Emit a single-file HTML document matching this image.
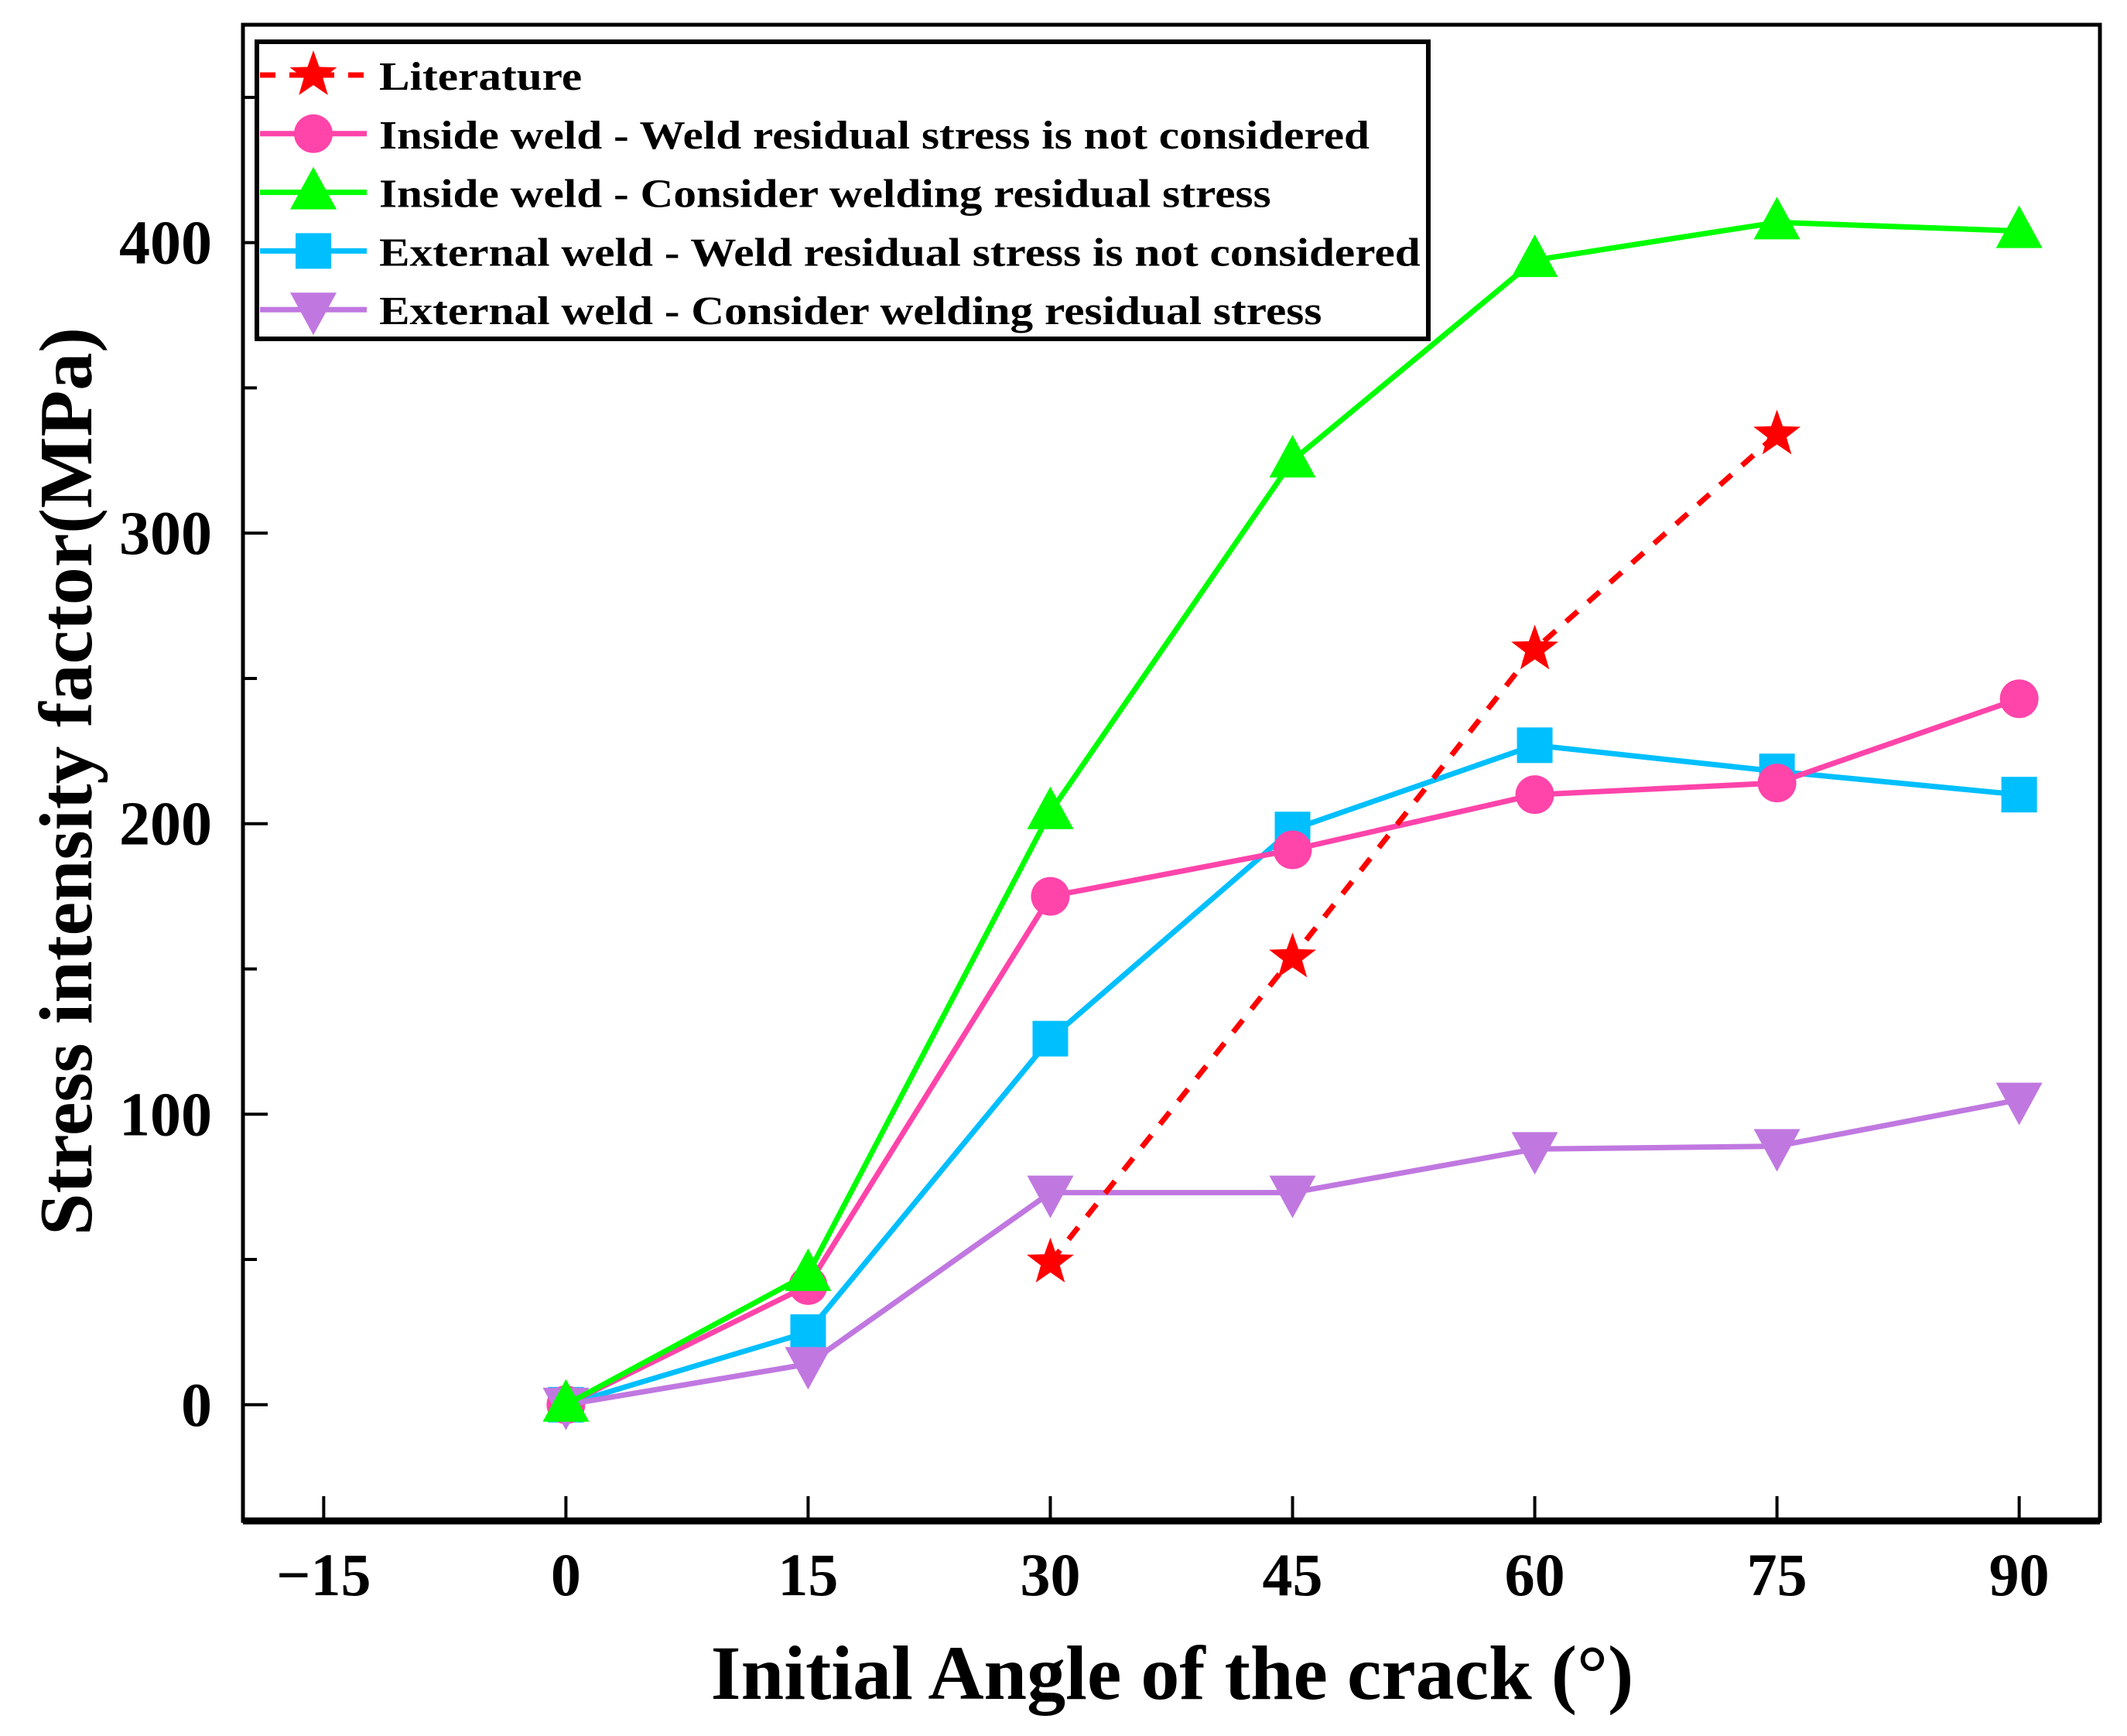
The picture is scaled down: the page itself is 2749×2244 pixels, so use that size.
<!DOCTYPE html>
<html><head><meta charset="utf-8"><style>
html,body{margin:0;padding:0;background:#fff;}
svg{display:block;font-family:"Liberation Serif",serif;font-weight:bold;}
</style></head><body>
<svg id="chart" width="2749" height="2244" viewBox="0 0 2749 2244" xmlns="http://www.w3.org/2000/svg">
</svg>
<script>
const xCats = [0, 15, 30, 45, 60, 75, 90];
const litX = [30, 45, 60, 75];
const litVals = [49, 154, 260, 334];
const insideNoRS = [0, 41, 175, 191, 210, 214, 243];
const insideRS = [0, 45, 204, 325, 394, 407, 404];
const externalNoRS = [0, 25, 126, 198, 227, 218, 210];
const externalRS = [0, 14, 73, 73, 88, 89, 105];
const xTicks = [-15, 0, 15, 30, 45, 60, 75, 90];
const yTicks = [0, 100, 200, 300, 400];
const yMinor = [50, 150, 250, 350, 450];
const legendLabels = ["Literature","Inside weld - Weld residual stress is not considered","Inside weld - Consider welding residual stress","External weld - Weld residual stress is not considered","External weld - Consider welding residual stress"];

const L=314,R=2714,T=32,B=1966;
const xMin=-20,xMax=95,yMin=-40,yMax=475;
const xs=v=>L+(v-xMin)/(xMax-xMin)*(R-L);
const ys=v=>B-(v-yMin)/(yMax-yMin)*(B-T);
const svg=document.getElementById('chart');
const NS='http://www.w3.org/2000/svg';
function mk(tag,attrs,parent){const e=document.createElementNS(NS,tag);for(const k in attrs)e.setAttribute(k,attrs[k]);(parent||svg).appendChild(e);return e;}

let fr=mk('rect',{x:L,y:T,width:R-L,height:B-T,fill:'none',stroke:'#000','stroke-width':5});


let bl=mk('line',{x1:L,x2:R,y1:B,y2:B,stroke:'#000','stroke-width':9});



xTicks.forEach(t=>{
  const x=xs(t);
  const tk=mk('line',{x1:x,x2:x,y1:B,y2:B-32,stroke:'#000','stroke-width':4});
  
  
  const tx=mk('text',{x:x,y:B+96,'font-size':78,'text-anchor':'middle'});
  tx.textContent=t<0?'\u2212'+Math.abs(t):String(t);
  
  
});
yTicks.forEach(t=>{
  const y=ys(t);
  const tk=mk('line',{x1:L,x2:L+32,y1:y,y2:y,stroke:'#000','stroke-width':4});
  
  
  const tx=mk('text',{x:L-40,y:y+27,'font-size':80,'text-anchor':'end'});
  tx.textContent=String(t);
  
  
});
yMinor.forEach(t=>{
  const y=ys(t);
  const tk=mk('line',{x1:L,x2:L+18,y1:y,y2:y,stroke:'#000','stroke-width':4});
  
  
});
let xt=mk('text',{x:1515,y:2196,'font-size':100,'text-anchor':'middle'});
xt.textContent='Initial Angle of the crack (\u00b0)';


let yt=mk('text',{x:0,y:0,'font-size':98,'text-anchor':'middle',transform:'translate(118,1010) rotate(-90)'});
yt.textContent='Stress intensity factor(MPa)';



function marker(type,x,y,color,g){
  let e;
  if(type==='star'){
    const r=32,ri=13,p=[];
    for(let i=0;i<10;i++){const a=-Math.PI/2+i*Math.PI/5,rr=i%2?ri:r;p.push((x+rr*Math.cos(a)).toFixed(1)+','+(y+rr*Math.sin(a)).toFixed(1));}
    e=mk('polygon',{points:p.join(' '),fill:color},g);
  }else if(type==='circle'){e=mk('circle',{cx:x,cy:y,r:25,fill:color},g);}
  else if(type==='up'){e=mk('polygon',{points:`${x},${y-33} ${x-30},${y+22} ${x+30},${y+22}`,fill:color},g);}
  else if(type==='down'){e=mk('polygon',{points:`${x},${y+33} ${x-30},${y-22} ${x+30},${y-22}`,fill:color},g);}
  else {e=mk('rect',{x:x-23,y:y-23,width:46,height:46,fill:color},g);}
  return e;
}
const series=[
 {name:'series-external-no-rs',xv:xCats,yv:externalNoRS,color:'#00bfff',m:'square',dash:null},
 {name:'series-inside-no-rs',xv:xCats,yv:insideNoRS,color:'#ff44aa',m:'circle',dash:null},
 {name:'series-external-rs',xv:xCats,yv:externalRS,color:'#c078e0',m:'down',dash:null},
 {name:'series-inside-rs',xv:xCats,yv:insideRS,color:'#00ff00',m:'up',dash:null},
 {name:'series-literature',xv:litX,yv:litVals,color:'#ff0000',m:'star',dash:'20,18'}
];
series.forEach(s=>{
  const g=mk('g',{});
  
  
  const pts=s.xv.map((v,i)=>xs(v).toFixed(1)+','+ys(s.yv[i]).toFixed(1)).join(' ');
  const pl=mk('polyline',{points:pts,fill:'none',stroke:s.color,'stroke-width':7,'stroke-linejoin':'round'},g);
  if(s.dash)pl.setAttribute('stroke-dasharray',s.dash);
  
  
  s.xv.forEach((v,i)=>{
    const m=marker(s.m,xs(v),ys(s.yv[i]),s.color,g);
    
    
  });
});

const lg=mk('g',{});


const lb=mk('rect',{x:332,y:54,width:1514,height:384,fill:'#fff',stroke:'#000','stroke-width':6},lg);


const lOrder=[{c:'#ff0000',m:'star',d:'20,18'},{c:'#ff44aa',m:'circle'},{c:'#00ff00',m:'up'},{c:'#00bfff',m:'square'},{c:'#c078e0',m:'down'}];
legendLabels.forEach((lab,i)=>{
  const y=97+i*75.8;
  const ge=mk('g',{},lg);
  
  
  const ln=mk('line',{x1:336,x2:474,y1:y,y2:y,stroke:lOrder[i].c,'stroke-width':7},ge);
  if(lOrder[i].d)ln.setAttribute('stroke-dasharray',lOrder[i].d);
  marker(lOrder[i].m,405,y,lOrder[i].c,ge);
  const t=mk('text',{x:490,y:y+19,'font-size':52,textLength:(i===0?0:0)},ge);
  t.removeAttribute('textLength');
  t.setAttribute('transform',`translate(490,0) scale(1.14,1) translate(-490,0)`);
  t.textContent=lab;
  
  
});
</script>
</body></html>
